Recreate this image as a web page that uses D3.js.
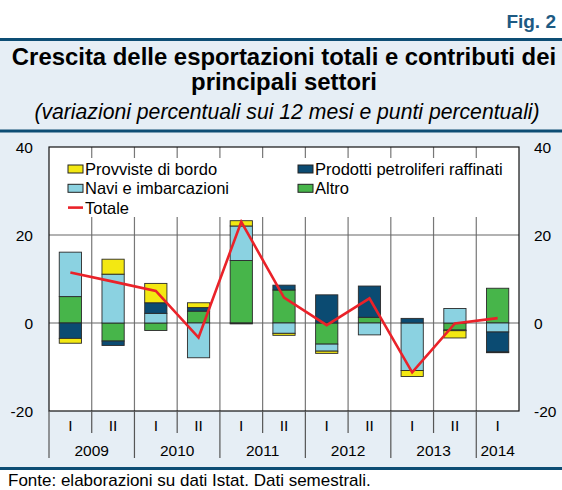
<!DOCTYPE html>
<html>
<head>
<meta charset="utf-8">
<script src="https://cdn.jsdelivr.net/npm/d3@7"></script>
<style>
  body { margin: 0; background: #fff; }
  svg { display: block; font-family: "Liberation Sans", Arial, sans-serif; }
</style>
</head>
<body>
<svg id="chart" width="562" height="490"></svg>
<script>
// semesters shown on the x axis
const periods = ['2009-I', '2009-II', '2010-I', '2010-II', '2011-I', '2011-II',
  '2012-I', '2012-II', '2013-I', '2013-II', '2014-I']
const halfLabels = ['I', 'II', 'I', 'II', 'I', 'II', 'I', 'II', 'I', 'II', 'I']
const years = ['2009', '2010', '2011', '2012', '2013', '2014']
const yTicks = [-20, 0, 20, 40]

// contributions (percentage points)
const provviste = [-1.1, 3.4, 4.4, 1.1, 1.2, -0.45, -0.5, 0, -1.35, -1.65, -0.15]
const prodotti = [-3.5, -1.0, 2.4, 0.8, -0.2, 1.1, 6.4, 7.1, 1.05, -0.15, -4.55]
const navi = [10.1, 11.1, 2.2, -7.9, 7.85, -2.35, -1.6, -2.7, -10.8, 3.3, -2.05]
const altro = [6.0, -4.1, -1.7, 2.7, 14.2, 7.5, -4.8, 1.3, 0, -1.6, 7.9]
// total growth (%)
const totale = [11.5, 9.4, 7.3, -3.3, 23.0, 5.75, -0.5, 5.6, -11.2, -0.1, 1.1]

const colors = {
  provviste: '#f3e812',
  prodotti: '#0b4b72',
  navi: '#8bd2e1',
  altro: '#47b54a',
  totale: '#ea2229'
}

const svg = d3.select('#chart')
const W = 562
const plot = { left: 49, right: 519, top: 147, bottom: 411 }

// background bands and rules
svg.append('rect').attr('x', 0).attr('y', 40).attr('width', W).attr('height', 430).attr('fill', '#e6eef5')
svg.append('rect').attr('x', 0).attr('y', 38).attr('width', W).attr('height', 3).attr('fill', '#0d4d74')
svg.append('rect').attr('x', 0).attr('y', 129.5).attr('width', W).attr('height', 3).attr('fill', '#0d4d74')
svg.append('rect').attr('x', 0).attr('y', 467).attr('width', W).attr('height', 3).attr('fill', '#0d4d74')

// titles
svg.append('text').attr('x', 556).attr('y', 28).attr('text-anchor', 'end')
  .style('font-size', '19px').style('font-weight', 'bold').attr('fill', '#1d5a83').text('Fig. 2')
svg.append('text').attr('x', W / 2 + 3).attr('y', 65).attr('text-anchor', 'middle')
  .style('font-size', '23.9px').style('font-weight', 'bold').text('Crescita delle esportazioni totali e contributi dei')
svg.append('text').attr('x', W / 2 + 3).attr('y', 90).attr('text-anchor', 'middle')
  .style('font-size', '23.9px').style('font-weight', 'bold').text('principali settori')
svg.append('text').attr('x', W / 2 + 6).attr('y', 119).attr('text-anchor', 'middle')
  .style('font-size', '21.2px').style('font-style', 'italic').text('(variazioni percentuali sui 12 mesi e punti percentuali)')

// scales
const x = d3.scaleBand().domain(periods).range([plot.left, plot.right]).padding(0)
const y = d3.scaleLinear().domain([-20, 40]).range([plot.bottom, plot.top])
const bw = x.bandwidth()

// plot area
svg.append('rect').attr('x', plot.left).attr('y', plot.top)
  .attr('width', plot.right - plot.left).attr('height', plot.bottom - plot.top).attr('fill', '#fff')

const grid = svg.append('g')
periods.slice(1).forEach(p => {
  grid.append('line').attr('x1', x(p)).attr('x2', x(p)).attr('y1', plot.top).attr('y2', plot.bottom)
    .attr('stroke', '#777').attr('stroke-width', 1.2)
})
;[0, 20].forEach(v => {
  grid.append('line').attr('x1', plot.left).attr('x2', plot.right).attr('y1', y(v)).attr('y2', y(v))
    .attr('stroke', '#666').attr('stroke-width', 1.2)
})

// legend box hides the grid behind it
svg.append('rect').attr('x', plot.left + 1).attr('y', 158).attr('width', plot.right - plot.left - 2)
  .attr('height', 59).attr('fill', '#fff')

// stacked bars
const rows = periods.map((p, i) => ({
  period: p, altro: altro[i], navi: navi[i], prodotti: prodotti[i], provviste: provviste[i]
}))
const series = d3.stack()
  .keys(['altro', 'navi', 'prodotti', 'provviste'])
  .offset(d3.stackOffsetDiverging)(rows)

svg.append('g').selectAll('g').data(series).join('g')
  .attr('fill', d => colors[d.key])
  .selectAll('rect').data(d => d).join('rect')
  .attr('x', d => x(d.data.period) + bw * 0.24)
  .attr('width', bw * 0.52)
  .attr('y', d => y(Math.max(d[0], d[1])))
  .attr('height', d => Math.abs(y(d[0]) - y(d[1])))
  .attr('stroke', '#2a2a2a')
  .attr('stroke-width', 0.9)

// total line
const line = d3.line()
  .x((d, i) => x(periods[i]) + bw / 2)
  .y(d => y(d))
svg.append('path').datum(totale).attr('d', line)
  .attr('fill', 'none').attr('stroke', colors.totale).attr('stroke-width', 2.6)

// border
svg.append('rect').attr('x', plot.left).attr('y', plot.top)
  .attr('width', plot.right - plot.left).attr('height', plot.bottom - plot.top)
  .attr('fill', 'none').attr('stroke', '#111').attr('stroke-width', 1.2)

// legend
const legendItems = [
  { key: 'provviste', label: 'Provviste di bordo', col: 0, row: 0 },
  { key: 'prodotti', label: 'Prodotti petroliferi raffinati', col: 1, row: 0 },
  { key: 'navi', label: 'Navi e imbarcazioni', col: 0, row: 1 },
  { key: 'altro', label: 'Altro', col: 1, row: 1 },
  { key: 'totale', label: 'Totale', col: 0, row: 2 }
]
legendItems.forEach(item => {
  const lx = item.col === 0 ? 68 : 298
  const ly = 169 + item.row * 19.3
  if (item.key === 'totale') {
    svg.append('line').attr('x1', lx).attr('x2', lx + 15).attr('y1', ly).attr('y2', ly)
      .attr('stroke', colors.totale).attr('stroke-width', 2.6)
  } else {
    svg.append('rect').attr('x', lx).attr('y', ly - 4).attr('width', 15).attr('height', 8)
      .attr('fill', colors[item.key]).attr('stroke', '#222').attr('stroke-width', 1)
  }
  svg.append('text').attr('x', lx + 17).attr('y', ly).attr('dy', '0.36em')
    .style('font-size', '16.5px').text(item.label)
})

// y axis labels, both sides
yTicks.forEach(v => {
  svg.append('text').attr('x', 33).attr('y', y(v)).attr('dy', '0.36em').attr('text-anchor', 'end')
    .style('font-size', '15.5px').text(v)
  svg.append('text').attr('x', 534).attr('y', y(v)).attr('dy', '0.36em')
    .style('font-size', '15.5px').text(v)
})

// x axis: semester labels, separators and years
const axis = svg.append('g')
periods.forEach((p, i) => {
  axis.append('text').attr('x', x(p) + bw / 2).attr('y', 431).attr('text-anchor', 'middle')
    .style('font-size', '15.5px').text(halfLabels[i])
  const long = halfLabels[i] === 'I'
  axis.append('line').attr('x1', x(p)).attr('x2', x(p)).attr('y1', plot.bottom)
    .attr('y2', long ? 458 : 433).attr('stroke', '#555').attr('stroke-width', 1.2)
})
years.forEach(yr => {
  const first = periods.indexOf(yr + '-I')
  const last = periods.indexOf(yr + '-II') >= 0 ? periods.indexOf(yr + '-II') : first
  const cx = (x(periods[first]) + x(periods[last]) + bw) / 2
  axis.append('text').attr('x', cx).attr('y', 456).attr('text-anchor', 'middle')
    .style('font-size', '15.5px').text(yr)
})

// source
svg.append('text').attr('x', 8).attr('y', 485.5)
  .style('font-size', '17px').text('Fonte: elaborazioni su dati Istat. Dati semestrali.')
</script>
</body>
</html>
